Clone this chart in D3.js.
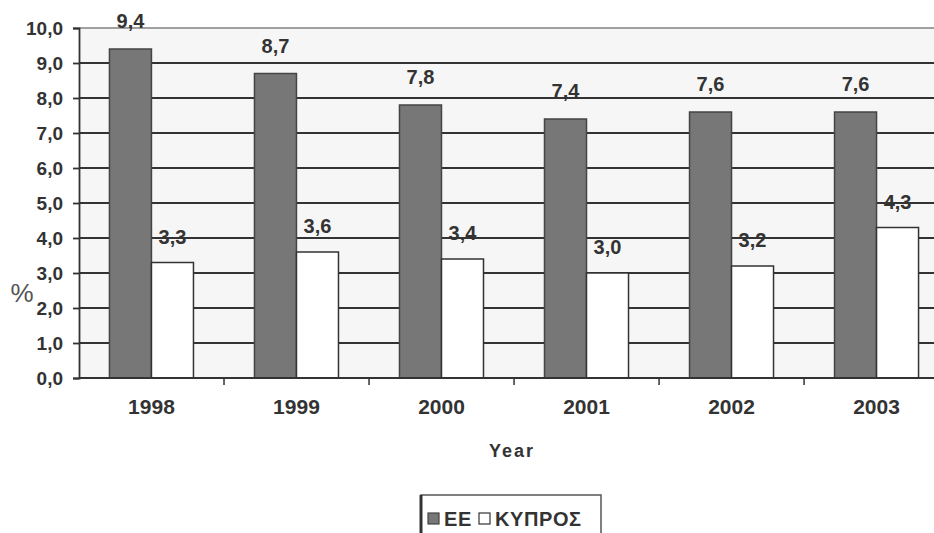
<!DOCTYPE html>
<html>
<head>
<meta charset="utf-8">
<script src="https://cdn.jsdelivr.net/npm/d3@7"></script>
<style>
  body { margin: 0; background: #fff; }
  svg { display: block; font-family: 'Liberation Sans', Arial, sans-serif; }
  .tick text { font-weight: bold; fill: #333; }
</style>
</head>
<body>
<svg id="chart" width="934" height="533"></svg>
<script>
const years = ['1998', '1999', '2000', '2001', '2002', '2003'];
const seriesNames = ['ΕΕ', 'ΚΥΠΡΟΣ'];
const ee = [9.4, 8.7, 7.8, 7.4, 7.6, 7.6];
const cyprus = [3.3, 3.6, 3.4, 3.0, 3.2, 4.3];
const yTicks = [0, 1, 2, 3, 4, 5, 6, 7, 8, 9, 10];

const c = {
  width: 934,
  height: 533,
  margin: { left: 79, top: 28, bottom: 155 },
  plotRight: 949,
  colors: ['#777777', '#ffffff'],
  strokes: ['#444444', '#333333'],
  fontSize: 19,
};

const fmt = (v) => d3.format('.1f')(v).replace('.', ',');

const data = years.map((y, i) => ({ year: y, values: [ee[i], cyprus[i]] }));

const svg = d3.select('#chart');

const x0 = d3
  .scaleBand(years, [c.margin.left, c.plotRight])
  .paddingInner(61 / 145)
  .paddingOuter(0.21);
const x1 = d3.scaleBand([0, 1], [0, x0.bandwidth()]).padding(0);
const y = d3.scaleLinear([0, 10], [c.height - c.margin.bottom, c.margin.top]);
const y0 = y(0);

// plot area
svg.append('rect')
  .attr('x', c.margin.left)
  .attr('y', y(10))
  .attr('width', c.width - c.margin.left)
  .attr('height', y0 - y(10))
  .attr('fill', '#f6f6f6');

// grid
svg.append('g')
  .selectAll('line')
  .data(yTicks.filter((d) => d > 0))
  .join('line')
  .attr('x1', c.margin.left)
  .attr('x2', c.width)
  .attr('y1', (d) => y(d))
  .attr('y2', (d) => y(d))
  .attr('stroke', (d) => (d === 10 ? '#a0a0a0' : '#333'))
  .attr('stroke-width', 1.8);

// bars
const groups = svg
  .append('g')
  .selectAll('g')
  .data(data)
  .join('g')
  .attr('transform', (d) => `translate(${x0(d.year)},0)`);

groups
  .selectAll('rect')
  .data((d) => d.values)
  .join('rect')
  .attr('x', (d, i) => x1(i))
  .attr('y', (d) => y(d))
  .attr('width', x1.bandwidth())
  .attr('height', (d) => y0 - y(d))
  .attr('fill', (d, i) => c.colors[i])
  .attr('stroke', (d, i) => c.strokes[i])
  .attr('stroke-width', 1.5);

groups
  .selectAll('text')
  .data((d) => d.values)
  .join('text')
  .attr('x', (d, i) => x1(i) + x1.bandwidth() / 2)
  .attr('y', (d, i) => y(d) - (i === 0 ? 21 : 19))
  .attr('text-anchor', 'middle')
  .attr('font-size', 20)
  .attr('font-weight', 'bold')
  .attr('fill', '#333')
  .text((d) => fmt(d));

// Y axis
const yAxis = d3.axisLeft(y).tickValues(yTicks).tickFormat(fmt).tickSize(6).tickPadding(10);
const yAxisEl = svg
  .append('g')
  .attr('transform', `translate(${c.margin.left},0)`)
  .call(yAxis);
yAxisEl.select('.domain').attr('stroke', '#333').attr('stroke-width', 1.8);
yAxisEl.selectAll('.tick line').attr('stroke', '#333').attr('stroke-width', 1.8);
yAxisEl.selectAll('.tick text').attr('font-size', 19);

// X axis
const xAxisEl = svg
  .append('g')
  .attr('transform', `translate(0,${y0})`)
  .call(d3.axisBottom(x0).tickSize(0).tickPadding(21));
xAxisEl.select('.domain').remove();
xAxisEl.selectAll('.tick text').attr('font-size', 21);

xAxisEl
  .append('line')
  .attr('x1', c.margin.left)
  .attr('x2', c.width)
  .attr('stroke', '#333')
  .attr('stroke-width', 1.8);

xAxisEl
  .selectAll('line.sep')
  .data(years.slice(1))
  .join('line')
  .classed('sep', true)
  .attr('x1', (d) => x0(d) - x0.step() * 0.21)
  .attr('x2', (d) => x0(d) - x0.step() * 0.21)
  .attr('y1', 0)
  .attr('y2', 7)
  .attr('stroke', '#333')
  .attr('stroke-width', 1.5);

// axis titles
svg.append('text')
  .attr('x', 512)
  .attr('y', 457)
  .attr('text-anchor', 'middle')
  .attr('font-size', 18)
  .attr('font-weight', 'bold')
  .attr('letter-spacing', 2)
  .attr('fill', '#333')
  .text('Year');

svg.append('text')
  .attr('x', 22)
  .attr('y', 302)
  .attr('text-anchor', 'middle')
  .attr('font-size', 26)
  .attr('fill', '#555')
  .text('%');

// legend
const leg = svg.append('g').attr('transform', 'translate(421,495)');
leg.append('rect')
  .attr('x', 0)
  .attr('y', 0)
  .attr('width', 180)
  .attr('height', 50)
  .attr('fill', '#fff')
  .attr('stroke', '#555')
  .attr('stroke-width', 1.5);
leg.append('line')
  .attr('x1', 0).attr('x2', 0).attr('y1', 0).attr('y2', 40)
  .attr('stroke', '#333').attr('stroke-width', 3);

const items = leg
  .selectAll('g.item')
  .data(seriesNames)
  .join('g')
  .classed('item', true)
  .attr('transform', (d, i) => `translate(${i === 0 ? 7 : 58},0)`);
items.append('rect')
  .attr('x', 0)
  .attr('y', 18)
  .attr('width', 11)
  .attr('height', 11)
  .attr('fill', (d, i) => c.colors[i])
  .attr('stroke', (d, i) => c.strokes[i])
  .attr('stroke-width', 1.2);
items.append('text')
  .attr('x', 16)
  .attr('y', 31)
  .attr('font-size', 20)
  .attr('font-weight', 'bold')
  .attr('letter-spacing', 0.6)
  .attr('fill', '#333')
  .text((d) => d);
</script>
</body>
</html>
